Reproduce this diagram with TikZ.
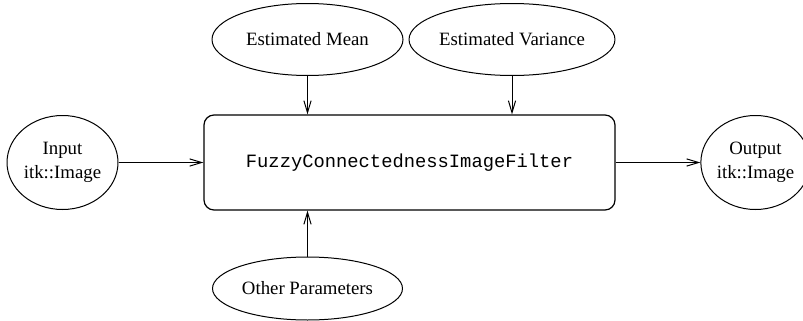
\documentclass[tikz,border=0pt]{standalone}
\usepackage{fontspec}
\setmainfont{Liberation Serif}
\setmonofont{Liberation Mono}
\usetikzlibrary{shapes.geometric,arrows.meta}
\tikzset{
	blob/.style={draw,ellipse,inner sep=0pt,line width=0.5pt,align=center},
	filterbox/.style={draw,rectangle,rounded corners=5pt,inner sep=0pt,line width=0.6pt,
		minimum width=205.5pt,minimum height=47.5pt,font=\fontsize{9.4}{12}\selectfont\ttfamily}
}
\begin{document}
\begin{tikzpicture}[x=0.5pt,y=-0.5pt,font=\fontsize{9.4}{12}\selectfont,line join = round, >={Straight Barb[length=6pt,width=3.6pt]}]
			\useasboundingbox (0,0) rectangle (803,321);
			\node[filterbox] (filter) at (409.5,162.5) {FuzzyConnectednessImageFilter};
			\node[blob,minimum width=55.5pt,minimum height=47pt] (in) at (62.5,162.5) {Input\\itk::Image};
			\node[blob,minimum width=54pt,minimum height=47pt] (out) at (755.5,162.5) {Output\\itk::Image};
			\node[blob,minimum width=95.5pt,minimum height=36pt] (mean) at (307.5,39.5) {Estimated Mean};
			\node[blob,minimum width=97pt,minimum height=36pt] (var) at (512,39.5) {Estimated Variance};
			\node[blob,minimum width=95pt,minimum height=31.5pt] (other) at (307.5,288.5) {Other Parameters};
			%arrows
			\draw[line width=0.5pt,->] (in) -- (filter);
			\draw[line width=0.5pt,->] (filter) -- (out);
			\draw[line width=0.5pt,->] (mean) -- (mean |- filter.north);
			\draw[line width=0.5pt,->] (var) -- (var |- filter.north);
			\draw[line width=0.5pt,->] (other) -- (other |- filter.south);
	\end{tikzpicture}
\end{document}
